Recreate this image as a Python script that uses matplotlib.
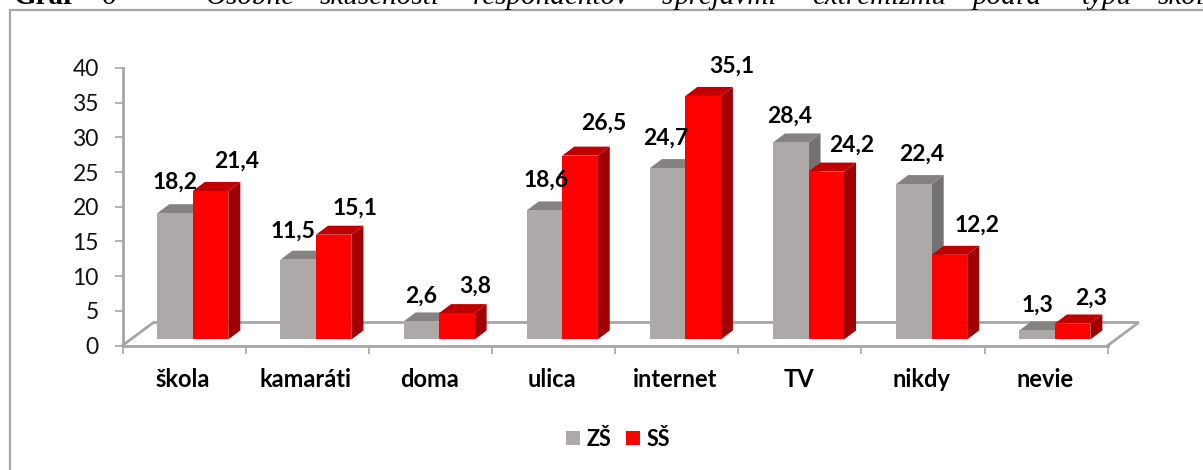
import matplotlib
matplotlib.use("Agg")
import matplotlib.pyplot as plt
from matplotlib.patches import Polygon, Patch

categories = ["škola", "kamaráti", "doma", "ulica", "internet", "TV", "nikdy", "nevie"]
zs_values = [18.2, 11.5, 2.6, 18.6, 24.7, 28.4, 22.4, 1.3]
ss_values = [21.4, 15.1, 3.8, 26.5, 35.1, 24.2, 12.2, 2.3]
series_names = ["ZŠ", "SŠ"]
y_ticks = [0, 5, 10, 15, 20, 25, 30, 35, 40]

title_words = [("Graf", 14, "bold", "normal"), ("6", 102, "normal", "italic"),
               ("Osobné", 206, "normal", "italic"), ("skúsenosti", 320, "normal", "italic"),
               ("respondentov", 473, "normal", "italic"), ("s", 662, "normal", "italic"),
               ("prejavmi", 675, "normal", "italic"), ("extrémizmu", 812, "normal", "italic"),
               ("podľa", 973, "normal", "italic"), ("typu", 1082, "normal", "italic"),
               ("škôl", 1158, "normal", "italic")]

W, H = 1203, 470
FONT = "Lato"
plt.rcParams["font.family"] = [FONT, "DejaVu Sans"]
GRID = "#a6a6a6"
fig = plt.figure(figsize=(W / 100, H / 100), dpi=100)
ax = fig.add_axes([122.5 / W, (H - 345.5) / H, (1107.7 - 122.5) / W, (345.5 - 68) / H])
ax.set_xlim(0, 8)
ax.set_ylim(0, 40)
ax.patch.set_alpha(0)

for sp in ["top", "right"]:
    ax.spines[sp].set_visible(False)
for sp in ["left", "bottom"]:
    ax.spines[sp].set_color(GRID)
    ax.spines[sp].set_linewidth(2)

ax.set_yticks(y_ticks)
ax.tick_params(axis="y", length=6, width=1.2, color=GRID, labelsize=16.5, pad=11, labelcolor="#111111")
ax.set_xticks(range(9))
ax.set_xticklabels([])
ax.tick_params(axis="x", which="major", length=6, width=1.2, color=GRID)
ax.set_xticks([i + 0.49 for i in range(8)], minor=True)
ax.set_xticklabels(categories, minor=True, fontweight="bold", fontsize=17)
ax.tick_params(axis="x", which="minor", length=0, pad=16.5)

# floor of the 3D plot
px_x = 8 / (1107.7 - 122.5)
px_y = 40 / (345.5 - 68)
fdx, fdy = 31 * px_x, 23 * px_y
ax.plot([0, fdx, 8 + fdx, 8], [0, fdy, fdy, 0], color=GRID, lw=2, clip_on=False, zorder=1,
        solid_joinstyle="miter")

base = 0.87
bw = 35.5 * px_x
dx, dy = 12 * px_x, 9 * px_y
left0 = (157.3 - 122.5) * px_x
colors = [("#ada9a9", "#868282", "#747171"), ("#ff0000", "#c00000", "#a00000")]


def bars(values, offset, cols, z):
    xs = [i + left0 + offset for i in range(len(values))]
    for x, v in zip(xs, values):
        top = base + v
        ax.add_patch(Polygon([(x + bw, base), (x + bw + dx, base + dy), (x + bw + dx, top + dy), (x + bw, top)],
                             closed=True, fc=cols[2], ec="none", zorder=z, clip_on=False))
        ax.add_patch(Polygon([(x, top), (x + dx, top + dy), (x + bw + dx, top + dy), (x + bw, top)],
                             closed=True, fc=cols[1], ec="none", zorder=z, clip_on=False))
    ax.bar(xs, values, width=bw, bottom=base, align="edge", color=cols[0], edgecolor="none",
           linewidth=0, zorder=z + 0.5, clip_on=False)
    return xs


xs_z = bars(zs_values, 0, colors[0], 2)
xs_s = bars(ss_values, bw, colors[1], 3)

# hand-placed data labels, offset in pixels from the top-centre of each bar
zs_off = [(0, 31), (-5, 28), (0, 25), (1.5, 30), (-2, 30), (-1, 26), (8, 30), (0, 25)]
ss_off = [(26.5, 30), (21, 27), (18, 27), (24, 32), (29, 30), (25, 26), (28, 29.5), (18.5, 25)]
for xs, vals, offs in ((xs_z, zs_values, zs_off), (xs_s, ss_values, ss_off)):
    for x, v, o in zip(xs, vals, offs):
        ax.annotate(f"{v:.1f}".replace(".", ","), (x + bw / 2, base + v), xytext=o,
                    textcoords="offset pixels", ha="center", va="center", fontsize=16.5,
                    fontweight="bold", color="black", zorder=6, annotation_clip=False)

# legend
handles = [Patch(fc=colors[0][0], ec="none"), Patch(fc=colors[1][0], ec="none")]
fig.legend(handles, series_names, loc="center", bbox_to_anchor=(618 / W, 1 - 439 / H), ncol=2,
           frameon=False, prop={"weight": "bold", "size": 15.5}, handlelength=0.65, handleheight=0.65,
           handletextpad=0.3, columnspacing=0.65, borderpad=0)

# chart frame (open on the right, runs off the bottom)
fig.add_artist(plt.Line2D([10 / W, 10 / W, 1], [0, 1 - 9.5 / H, 1 - 9.5 / H], color=GRID, lw=1.6,
                          solid_joinstyle="miter"))

# caption line above the chart, cut off by the top of the picture
for word, x, weight, style in title_words:
    fig.text(x / W, 1 - 3.5 / H, word, family="Liberation Serif", fontsize=21, fontweight=weight,
             fontstyle=style, ha="left", va="baseline", color="black")

fig.savefig("out.png", dpi=100, facecolor="white")
